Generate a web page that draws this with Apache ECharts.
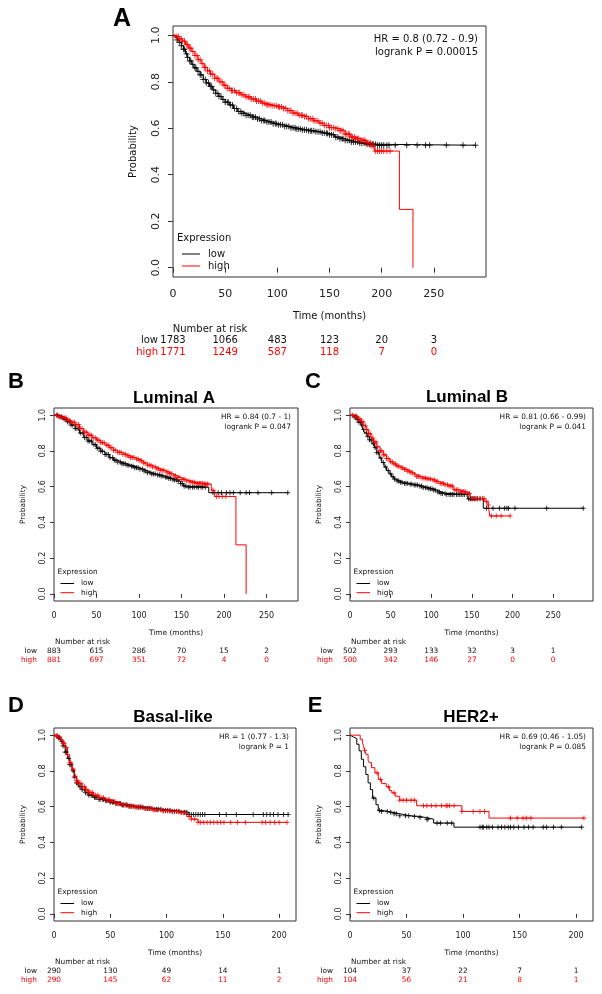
<!DOCTYPE html>
<html><head><meta charset="utf-8">
<script src="https://cdn.jsdelivr.net/npm/echarts@6/dist/echarts.min.js"></script>
<style>html,body{margin:0;padding:0;background:#fff}#c{width:602px;height:994px}</style>
</head><body><div id="c"></div>
<script>
// ---------------- DATA ----------------
// Kaplan-Meier step points [time (months), survival]
const aLowSteps = [[0,1],[2,0.99],[4,0.98],[6,0.97],[8,0.955],[10,0.94],[12,0.92],[14,0.905],[16,0.89],[18,0.875],[20,0.86],[23,0.845],[26,0.83],[29,0.81],[32,0.795],[35,0.78],[38,0.765],[41,0.75],[44,0.737],[47,0.724],[50,0.712],[54,0.7],[58,0.685],[62,0.672],[66,0.664],[70,0.656],[75,0.648],[80,0.64],[85,0.633],[90,0.627],[95,0.62],[100,0.615],[106,0.608],[112,0.602],[118,0.597],[124,0.593],[130,0.589],[136,0.585],[142,0.58],[146,0.578],[150,0.572],[155,0.562],[160,0.555],[165,0.548],[170,0.541],[178,0.536],[186,0.531],[195,0.527],[290,0.527]];
const aHighSteps = [[0,1],[3,0.995],[6,0.985],[9,0.975],[12,0.96],[15,0.945],[18,0.93],[21,0.913],[24,0.895],[27,0.878],[30,0.862],[33,0.847],[36,0.833],[40,0.815],[44,0.8],[48,0.785],[52,0.772],[56,0.762],[60,0.753],[65,0.744],[70,0.735],[75,0.726],[80,0.717],[85,0.708],[90,0.701],[95,0.697],[100,0.692],[105,0.685],[110,0.676],[115,0.665],[120,0.656],[125,0.65],[130,0.641],[135,0.632],[140,0.622],[145,0.612],[150,0.603],[155,0.598],[160,0.59],[165,0.575],[170,0.562],[175,0.555],[180,0.548],[185,0.538],[190,0.525],[193,0.502],[217,0.251],[230,0]];
const aLowCens = [4,6,8,10,11,13,14,16,17,19,21,22,24,26,27,29,31,32,34,36,37,39,41,43,44,46,48,50,52,53,55,57,59,61,63,65,66,68,70,72,74,76,77,79,81,83,85,87,88,90,92,94,96,98,99,101,103,105,107,109,111,113,115,117,118,120,122,124,126,128,130,132,133,135,137,139,141,143,145,147,148,150,152,154,156,158,160,162,163,165,167,169,171,173,175,177,179,181,183,185,186,188,189,191,192,194,196,198,200,202,205,207,213,224,234,242,246,262,278,290];
const aHighCens = [3,5,6,8,9,11,13,14,16,17,19,21,23,24,26,28,30,31,33,35,36,38,40,42,43,45,47,49,50,52,54,56,57,59,61,63,64,66,68,70,72,73,75,77,79,80,82,84,86,88,90,91,93,95,97,99,101,102,104,106,108,110,112,113,115,117,119,121,123,124,126,128,130,132,134,135,137,139,141,143,145,147,149,150,152,154,156,158,160,161,163,165,166,168,169,171,172,174,175,177,178,180,181,183,184,186,187,189,190,192,194,196,198,200,202,205,208];

const bLowSteps = [[0,1],[5,0.99],[10,0.978],[15,0.963],[20,0.945],[25,0.925],[30,0.9],[35,0.875],[40,0.855],[45,0.835],[50,0.815],[55,0.798],[60,0.78],[65,0.762],[70,0.748],[75,0.737],[80,0.728],[85,0.72],[90,0.714],[95,0.706],[100,0.698],[105,0.688],[110,0.678],[115,0.671],[120,0.665],[125,0.66],[130,0.653],[135,0.646],[140,0.638],[145,0.63],[149,0.617],[152,0.603],[156,0.597],[182,0.566],[275,0.566]];
const bHighSteps = [[0,1],[5,0.993],[10,0.985],[15,0.972],[20,0.96],[25,0.947],[30,0.925],[35,0.905],[40,0.888],[45,0.873],[50,0.86],[55,0.846],[60,0.832],[65,0.818],[70,0.804],[75,0.792],[80,0.781],[85,0.772],[90,0.763],[95,0.754],[100,0.745],[105,0.733],[110,0.72],[115,0.71],[120,0.7],[125,0.692],[130,0.682],[135,0.672],[140,0.661],[145,0.651],[150,0.64],[155,0.632],[160,0.625],[166,0.618],[176,0.614],[185,0.58],[189,0.545],[214,0.274],[226,0]];
const bLowCens = [4,7,9,12,14,16,18,20,22,25,27,29,31,34,36,38,40,42,44,47,49,51,53,55,57,60,62,64,66,69,71,73,75,78,80,82,84,86,88,91,93,95,97,99,101,104,106,108,110,113,115,117,119,122,124,126,128,131,133,135,137,140,142,144,146,149,151,153,155,158,160,163,165,168,170,173,175,178,187,193,197,203,207,211,219,226,230,240,256,275];
const bHighCens = [3,5,7,10,12,14,16,18,20,22,24,27,29,31,33,36,38,40,42,44,46,49,51,53,55,57,59,62,64,66,68,70,72,75,77,79,81,84,86,88,90,92,94,97,99,101,103,105,107,110,112,114,116,119,121,123,125,127,129,132,134,136,138,141,143,145,147,150,152,154,156,159,161,163,165,167,169,171,172,174,175,177,178,180,181,187,191,194,198,202];

const cLowSteps = [[0,1],[4,0.99],[8,0.975],[11,0.96],[14,0.944],[16,0.92],[18,0.9],[21,0.88],[24,0.862],[27,0.84],[30,0.818],[33,0.79],[36,0.76],[39,0.735],[42,0.71],[45,0.69],[48,0.672],[51,0.655],[54,0.642],[57,0.632],[61,0.624],[66,0.618],[72,0.614],[78,0.609],[84,0.603],[90,0.594],[96,0.588],[102,0.581],[107,0.57],[112,0.562],[118,0.556],[145,0.532],[164,0.479],[287,0.479]];
const cHighSteps = [[0,1],[6,0.994],[10,0.98],[14,0.963],[17,0.94],[20,0.918],[23,0.895],[26,0.872],[29,0.85],[33,0.823],[37,0.8],[41,0.778],[45,0.757],[49,0.739],[53,0.727],[57,0.715],[62,0.705],[66,0.696],[70,0.687],[74,0.678],[78,0.667],[82,0.656],[88,0.648],[95,0.643],[100,0.637],[105,0.628],[110,0.618],[116,0.61],[121,0.603],[127,0.582],[135,0.572],[143,0.562],[148,0.534],[166,0.516],[170,0.497],[172,0.436],[197,0.436]];
const cLowCens = [5,7,9,11,13,15,17,20,22,24,26,29,31,33,35,38,41,44,47,50,53,55,58,60,62,64,67,69,71,74,76,79,81,83,86,88,90,93,95,97,99,101,103,105,108,110,112,114,117,119,122,124,126,128,131,133,135,137,139,141,144,146,148,149,151,153,155,157,160,168,176,184,190,193,195,203,242,287];
const cHighCens = [3,6,8,10,12,14,16,19,21,23,25,28,30,32,34,37,39,41,43,45,47,50,52,54,56,58,60,63,65,67,69,71,73,75,77,80,82,84,86,89,91,93,95,97,99,102,104,106,108,111,113,115,117,120,122,124,126,129,131,133,136,138,140,142,145,147,150,152,155,157,160,163,165,168,170,174,180,186,197];

const dLowSteps = [[0,1],[2,0.993],[4,0.985],[6,0.965],[8,0.94],[10,0.905],[12,0.87],[14,0.835],[16,0.8],[18,0.765],[20,0.733],[22,0.712],[25,0.695],[28,0.678],[31,0.664],[35,0.652],[40,0.641],[45,0.633],[50,0.625],[55,0.617],[60,0.609],[66,0.602],[72,0.597],[80,0.59],[88,0.585],[96,0.579],[104,0.574],[112,0.568],[120,0.556],[208,0.556]];
const dHighSteps = [[0,1],[2,0.996],[4,0.99],[6,0.975],[8,0.955],[10,0.93],[12,0.89],[14,0.845],[16,0.81],[18,0.77],[20,0.745],[22,0.73],[25,0.712],[28,0.695],[31,0.68],[35,0.664],[40,0.65],[45,0.638],[50,0.629],[55,0.618],[60,0.61],[66,0.603],[72,0.598],[80,0.59],[88,0.582],[96,0.576],[104,0.572],[112,0.566],[118,0.545],[122,0.53],[128,0.512],[207,0.512]];
const dLowCens = [3,4,5,7,8,10,11,13,14,15,17,18,20,21,23,24,25,27,28,30,31,33,34,36,37,38,40,41,43,44,46,47,49,50,52,53,55,56,58,59,61,62,64,65,67,69,71,73,75,77,79,81,83,85,87,89,91,93,95,97,99,101,103,105,107,109,111,113,116,118,120,122,124,126,128,130,132,134,147,153,162,177,186,189,192,195,199,204,208];
const dHighCens = [2,3,5,6,8,9,11,12,14,15,17,19,20,21,22,24,25,27,28,29,31,32,34,35,37,39,40,42,44,46,48,49,51,52,54,55,57,58,60,62,64,66,68,70,72,74,76,78,80,82,84,86,88,90,92,95,97,99,101,103,105,107,109,111,113,115,117,120,122,125,128,130,133,136,139,142,145,148,151,157,163,170,185,188,192,196,200,207];

const eLowCens = [21,26,28,33,36,39,41,44,49,52,57,62,68,69,77,80,86,90,115,117,118,121,123,126,131,134,137,140,142,145,149,154,158,162,171,174,180,187,205];
const eHighCens = [13,24,27,34,39,44,47,50,54,57,65,68,72,76,81,85,86,88,92,99,109,115,119,142,148,153,156,160,207];
const eLowSteps = [[0,1],[1,0.99],[3,0.981],[6,0.949],[8,0.912],[10,0.865],[12,0.823],[14,0.78],[16,0.733],[18,0.695],[20,0.648],[23,0.611],[25,0.579],[28,0.573],[34,0.568],[38,0.56],[44,0.549],[53,0.545],[62,0.539],[67,0.53],[74,0.508],[92,0.485],[205,0.485]];
const eHighSteps = [[0,1],[9,0.977],[11,0.959],[12,0.94],[13,0.915],[14,0.893],[16,0.86],[17,0.846],[19,0.818],[22,0.789],[25,0.752],[28,0.729],[32,0.711],[35,0.69],[37,0.677],[40,0.658],[44,0.636],[59,0.605],[99,0.573],[123,0.536],[207,0.536]];

// x tick labels
const xTicksLong = [0,50,100,150,200,250];
const xTicksShort = [0,50,100,150,200];
const yTicks = [0,0.2,0.4,0.6,0.8,1.0];

// number at risk
const aRiskLow = [1783,1066,483,123,20,3];
const aRiskHigh = [1771,1249,587,118,7,0];
const bRiskLow = [883,615,286,70,15,2];
const bRiskHigh = [881,697,351,72,4,0];
const cRiskLow = [502,293,133,32,3,1];
const cRiskHigh = [500,342,146,27,0,0];
const dRiskLow = [290,130,49,14,1];
const dRiskHigh = [290,145,62,11,2];
const eRiskLow = [104,37,22,7,1];
const eRiskHigh = [104,56,21,8,1];

// panel texts
const letters = ['A','B','C','D','E'];
const titles = ['', 'Luminal A', 'Luminal B', 'Basal-like', 'HER2+'];
const hrTexts = ['HR = 0.8 (0.72 - 0.9)','HR = 0.84 (0.7 - 1)','HR = 0.81 (0.66 - 0.99)','HR = 1 (0.77 - 1.3)','HR = 0.69 (0.46 - 1.05)'];
const pTexts = ['logrank P = 0.00015','logrank P = 0.047','logrank P = 0.041','logrank P = 1','logrank P = 0.085'];

// ---------------- LAYOUT ----------------
const panels = [
  {grid:{left:173,top:26,width:313,height:251}, xmax:300, xt:xTicksLong, low:aLowSteps, high:aHighSteps, lc:aLowCens, hc:aHighCens, rl:aRiskLow, rh:aRiskHigh, big:true, letter:[122,19], title:null},
  {grid:{left:54,top:408,width:244,height:193}, xmax:287, xt:xTicksLong, low:bLowSteps, high:bHighSteps, lc:bLowCens, hc:bHighCens, rl:bRiskLow, rh:bRiskHigh, letter:[16,382], title:[174,398]},
  {grid:{left:350,top:408,width:243,height:193}, xmax:299, xt:xTicksLong, low:cLowSteps, high:cHighSteps, lc:cLowCens, hc:cHighCens, rl:cRiskLow, rh:cRiskHigh, letter:[313,382], title:[467,397]},
  {grid:{left:54,top:728,width:242,height:193}, xmax:215, xt:xTicksShort, low:dLowSteps, high:dHighSteps, lc:dLowCens, hc:dHighCens, rl:dRiskLow, rh:dRiskHigh, letter:[16,706], title:[173,717]},
  {grid:{left:350,top:728,width:243,height:193}, xmax:215, xt:xTicksShort, low:eLowSteps, high:eHighSteps, lc:eLowCens, hc:eHighCens, rl:eRiskLow, rh:eRiskHigh, letter:[315,706], title:[471,717]}
];

function survAt(steps, t){ let s = steps[0][1]; for (const p of steps){ if (p[0] <= t) s = p[1]; else break; } return s; }

const FONT = 'DejaVu Sans';
const BLACK = '#000000', RED = '#ff0000';
const plus = 'path://M0,5L10,5M5,0L5,10';

const grids=[], xAxes=[], yAxes=[], series=[];
panels.forEach((p,i)=>{
  const big = !!p.big;
  grids.push(Object.assign({show:true, borderColor:'#333', borderWidth:1, backgroundColor:'#fff'}, p.grid));
  xAxes.push({gridIndex:i, type:'value', min:0, max:p.xmax,
    axisLine:{show:false}, splitLine:{show:false},
    axisTick:{show:true, length:big?5:4, customValues:p.xt, lineStyle:{color:'#333'}},
    axisLabel:{customValues:p.xt, fontSize:big?11:8, color:'#222', fontFamily:FONT, margin:big?12:11}});
  yAxes.push({gridIndex:i, type:'value', min:-0.04, max:1.04,
    axisLine:{show:false}, splitLine:{show:false},
    axisTick:{show:true, length:big?5:4, customValues:yTicks, lineStyle:{color:'#333'}},
    axisLabel:{customValues:yTicks, fontSize:big?11:8, color:'#222', fontFamily:FONT, rotate:90, margin:big?11:7,
      formatter:v=>v.toFixed(1)}});
  const cs = big?6:5;
  [[p.low,p.lc,BLACK],[p.high,p.hc,RED]].forEach(([steps,cens,col])=>{
    series.push({type:'line', xAxisIndex:i, yAxisIndex:i, data:steps, step:'end', symbol:'none', showSymbol:false,
      lineStyle:{color:col, width:1}, animation:false, silent:true, z:2});
    series.push({type:'scatter', xAxisIndex:i, yAxisIndex:i, data:cens.map(t=>[t, survAt(steps,t)]),
      symbol:plus, symbolSize:cs, itemStyle:{color:'rgba(0,0,0,0)', borderColor:col, borderWidth:1},
      animation:false, silent:true, z:3});
  });
});

const chart = echarts.init(document.getElementById('c'), null, {renderer:'canvas'});
chart.setOption({backgroundColor:'#fff', animation:false, grid:grids, xAxis:xAxes, yAxis:yAxes, series:series});

// ---------- texts ----------
const g = [];
function txt(x,y,text,opt){
  opt = opt||{};
  g.push({type:'text', x:x, y:y, rotation:opt.rot||0, z:10,
    style:{text:text, fill:opt.fill||'#111', fontSize:opt.size||8, fontFamily:opt.family||FONT, fontWeight:opt.weight||'normal',
      align:opt.align||'center', verticalAlign:'middle', textAlign:opt.align||'center', textVerticalAlign:'middle'}});
}
panels.forEach((p,i)=>{
  const big = !!p.big, G = p.grid;
  const fs = big?10:7.4;
  const right = G.left+G.width, bottom = G.top+G.height;
  txt(p.letter[0], p.letter[1], letters[i], {size:big?25:22, weight:'bold', family:'Liberation Sans', fill:'#000'});
  if (p.title) txt(p.title[0], p.title[1], titles[i], {size:17, weight:'bold', family:'Liberation Sans', fill:'#000'});
  txt(right-(big?8:7), G.top+(big?13.5:8.7), hrTexts[i], {size:fs, align:'right'});
  txt(right-(big?8:7), G.top+(big?26:19), pTexts[i], {size:fs, align:'right'});
  txt(G.left-(big?40:31), G.top+G.height/2, 'Probability', {size:fs, rot:Math.PI/2});
  const lx = G.left;
  if (big){
    txt(lx+4, bottom-38.5, 'Expression', {size:fs, align:'left'});
    [['low',BLACK,-23],['high',RED,-11]].forEach(([t,c,dy])=>{
      g.push({type:'line', z:10, shape:{x1:lx+9,y1:bottom+dy,x2:lx+27,y2:bottom+dy}, style:{stroke:c, lineWidth:1}});
      txt(lx+35, bottom+dy, t, {size:fs, align:'left'});
    });
  } else {
    txt(lx+3.5, bottom-28.5, 'Expression', {size:fs, align:'left'});
    [['low',BLACK,-17.5],['high',RED,-8.3]].forEach(([t,c,dy])=>{
      g.push({type:'line', z:10, shape:{x1:lx+6.5,y1:bottom+dy,x2:lx+20,y2:bottom+dy}, style:{stroke:c, lineWidth:1}});
      txt(lx+27, bottom+dy, t, {size:fs, align:'left'});
    });
  }
  txt(G.left+G.width/2, bottom+(big?39:32), 'Time (months)', {size:fs});
  txt(G.left+(big?37:28.5), bottom+(big?52:41.5), 'Number at risk', {size:fs});
  const yl = bottom+(big?63.7:50), yh = bottom+(big?75.3:58.8);
  txt(G.left-(big?15:17), yl, 'low', {size:fs, align:'right'});
  txt(G.left-(big?15:17), yh, 'high', {size:fs, align:'right', fill:RED});
  p.xt.forEach((t,k)=>{
    const px = chart.convertToPixel({xAxisIndex:i}, t);
    txt(px, yl, String(p.rl[k]), {size:fs});
    txt(px, yh, String(p.rh[k]), {size:fs, fill:RED});
  });
});
chart.setOption({graphic:{elements:g}});
</script>
</body></html>
